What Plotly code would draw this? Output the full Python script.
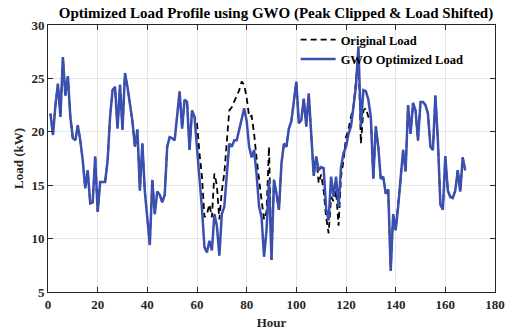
import plotly.graph_objects as go

hours = list(range(1, 169))

gwo_load = [
    21.7, 19.7, 22.5, 24.5, 21.4, 27.0, 23.4, 25.2, 21.4, 19.4,
    19.2, 20.6, 19.2, 17.3, 14.7, 16.4, 13.3, 13.4, 17.7, 12.5,
    15.3, 15.3, 15.3, 17.3, 21.4, 23.9, 24.2, 20.3, 24.4, 20.2,
    25.5, 24.2, 22.5, 21.0, 18.6, 20.2, 14.5, 18.9, 14.4, 11.7,
    9.4, 15.5, 12.3, 14.4, 14.1, 13.4, 14.1, 18.6, 19.5, 19.4,
    19.2, 21.5, 23.8, 20.3, 23.0, 22.8, 18.3, 22.0, 21.4, 18.5,
    15.9, 12.8, 9.2, 8.7, 9.8, 8.9, 12.3, 11.2, 8.4, 12.3,
    13.0, 15.8, 18.9, 18.6, 19.2, 19.2, 20.2, 21.5, 22.2, 21.0,
    18.6, 17.6, 18.3, 16.0, 13.0, 12.0, 8.3, 10.8, 15.5, 8.0,
    15.5, 14.2, 12.7, 17.0, 18.9, 18.6, 20.3, 21.0, 23.0, 24.7,
    20.8, 21.1, 23.1, 20.5, 23.6, 19.5, 15.9, 17.7, 16.4, 16.7,
    16.6, 12.8, 11.7, 15.8, 13.9, 15.8, 13.0, 16.7, 18.0, 18.6,
    19.8, 20.5, 22.3, 24.2, 28.0, 20.5, 23.9, 23.8, 23.0, 21.4,
    15.6, 20.5, 18.6, 15.6, 15.8, 14.2, 14.6, 7.0, 12.3, 10.8,
    13.0, 15.5, 18.3, 16.3, 22.5, 19.8, 22.7, 22.0, 19.2, 22.8,
    22.8, 22.5, 21.7, 18.6, 18.3, 23.4, 19.2, 13.2, 12.7, 17.7,
    14.5, 13.9, 13.8, 14.5, 16.4, 14.4, 17.6, 16.4,
]

# Original load: equal to the optimized load except where peaks were clipped / load shifted
original_load = list(gwo_load)
original_changes = {
    60: 20.8, 61: 18.0, 62: 15.8, 63: 12.0, 64: 12.3, 65: 13.2, 66: 12.0,
    67: 16.1, 68: 15.0, 69: 11.8, 70: 14.5, 71: 16.1, 72: 19.5, 73: 22.0,
    74: 22.3, 75: 22.8, 76: 23.4, 77: 23.9, 78: 24.7, 79: 24.4, 80: 23.2,
    81: 21.4, 82: 21.5, 83: 19.8, 84: 17.5, 85: 15.8, 86: 13.6, 87: 11.8,
    88: 12.5, 89: 18.6,
    109: 15.2, 110: 16.0, 111: 14.5, 112: 12.0, 113: 10.5, 114: 13.9,
    115: 13.5, 116: 14.5, 117: 11.2, 118: 15.8, 119: 17.3, 120: 19.5,
    121: 20.2, 122: 21.4, 123: 22.3, 124: 24.8, 125: 27.5, 126: 18.9,
    127: 22.0, 128: 22.2, 129: 21.4,
}
for h, v in original_changes.items():
    original_load[h - 1] = v

x_ticks = [0, 20, 40, 60, 80, 100, 120, 140, 160, 180]
y_ticks = [5, 10, 15, 20, 25, 30]

FONT = "Liberation Serif, Times New Roman, serif"

fig = go.Figure()
fig.add_trace(go.Scatter(
    x=hours, y=original_load, mode="lines", name="<b>Original Load</b>",
    line=dict(color="black", width=1.8, dash="6px,4px"),
))
fig.add_trace(go.Scatter(
    x=hours, y=gwo_load, mode="lines", name="<b>GWO Optimized Load</b>",
    line=dict(color="#3B4FB0", width=2.5),
))

axis_common = dict(
    showline=True, linecolor="#262626", linewidth=1, mirror="ticks",
    ticks="inside", ticklen=5, tickcolor="#262626",
    showgrid=True, gridcolor="#E6E6E6", gridwidth=1, zeroline=False,
    tickfont=dict(family=FONT, size=13, color="#262626"),
    automargin=False,
)

fig.update_layout(
    width=513, height=330,
    margin=dict(l=48, r=18, t=25, b=38),
    paper_bgcolor="white", plot_bgcolor="white",
    title=dict(
        text="<b>Optimized Load Profile using GWO (Peak Clipped & Load Shifted)</b>",
        font=dict(family=FONT, size=15, color="black"),
        x=0.538, xanchor="center", y=0.978, yanchor="top",
    ),
    xaxis=dict(
        range=[0, 180], tickvals=x_ticks, ticktext=[f"<b>{t}</b>" for t in x_ticks],
        title=dict(text="<b>Hour</b>", font=dict(family=FONT, size=13, color="#262626"), standoff=7),
        **axis_common,
    ),
    yaxis=dict(
        range=[5, 30], tickvals=y_ticks, ticktext=[f"<b>{t}</b>" for t in y_ticks],
        title=dict(text="<b>Load (kW)</b>", font=dict(family=FONT, size=13, color="#262626"), standoff=4),
        **axis_common,
    ),
    legend=dict(
        x=0.554, y=1.0, xanchor="left", yanchor="top",
        bgcolor="rgba(255,255,255,0)", borderwidth=0,
        font=dict(family=FONT, size=12.5, color="black"),
        tracegroupgap=0, itemwidth=35,
    ),
    showlegend=True,
)

fig.write_html(
    "out.html",
    config={"displayModeBar": False},
    post_script="document.body.style.margin='0';document.body.style.padding='0';",
)
